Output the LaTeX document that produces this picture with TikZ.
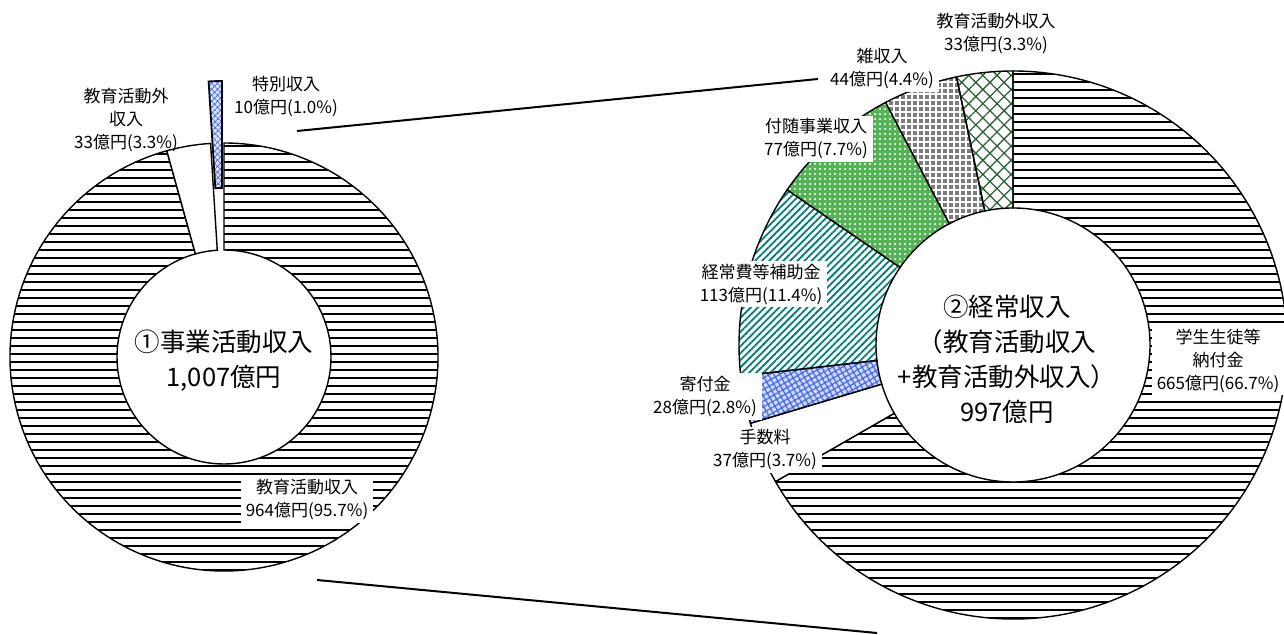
\documentclass[tikz,border=0pt]{standalone}
\usepackage{fontspec}
\setmainfont{Noto Sans CJK JP}
\usepackage{xcolor}
\usepackage{tikz}
\usetikzlibrary{patterns.meta}

\definecolor{hojoteal}{RGB}{0,128,118}
\definecolor{fuzuigreen}{RGB}{85,178,85}
\definecolor{zatsugray}{RGB}{125,125,125}
\definecolor{gaigreen}{RGB}{45,100,55}
\definecolor{kifublue}{RGB}{70,105,235}

\begin{document}
\begin{tikzpicture}[x=1pt, y=1pt,
		ring/.style args={#1/#2}{insert path={(#1:\Rout) arc[start angle=#1, end angle=#2, radius=\Rout] -- (#2:\Rin) arc[start angle=#2, end angle=#1, radius=\Rin] -- cycle}},
		part/.style={draw, line width=1.4pt},
		stripes/.style={part, pattern={Lines[angle=0, distance=8pt, line width=2.2pt]}},
		tokubetsu/.style={part, line width=1.8pt, preaction={fill=kifublue!20}, pattern={Hatch[angle=45, distance=4pt, line width=1pt]}, pattern color=kifublue},
		gaicross/.style={part, pattern={Hatch[angle=45, distance=10pt, line width=1.3pt]}, pattern color=gaigreen},
		zatsugrid/.style={part, preaction={fill=zatsugray}, pattern={Hatch[angle=0, distance=6pt, line width=1.4pt]}, pattern color=white},
		fuzuidots/.style={part, preaction={fill=fuzuigreen}, pattern={Dots[distance=5pt, radius=1.2pt]}, pattern color=white},
		hojolines/.style={part, pattern={Lines[angle=45, distance=5pt, line width=1.8pt]}, pattern color=hojoteal},
		kifuweave/.style={part, preaction={fill=kifublue!25}, pattern={Hatch[angle=30, distance=5pt, line width=1.2pt]}, pattern color=kifublue},
		lbl/.style={fill=white, align=center, inner xsep=5pt, inner ysep=3pt, font=\fontsize{17}{23}\selectfont},
		big/.style={align=center, font=\fontsize{25.5}{35}\selectfont}]
	\useasboundingbox (0,0) rectangle (1284,634);
	\begin{scope}[shift={(224,277)}]
		\def\Rout{214}\def\Rin{107}
		\path[stripes, ring=105.5/450];
		\path[part, fill=white, ring=93.6/105.5];
		\path[tokubetsu, shift={(91.8:62)}, ring=90/93.6];
		\coordinate (ltop) at (73,226);
		\coordinate (lbot) at (93,-223);
		\node[big] (jigyo) at (0,-3.5) {①事業活動収入\\1,007億円};
	\end{scope}
	\begin{scope}[shift={(1013,289)}]
		\def\Rout{274}\def\Rin{137}
		\path[stripes, ring=209.9/450];
		\path[part, fill=white, ring=196.6/209.9];
		\path[kifuweave, ring=186.5/196.6];
		\path[hojolines, ring=145.5/186.5];
		\path[fuzuidots, ring=117.7/145.5];
		\path[zatsugrid, ring=101.9/117.7];
		\path[gaicross, ring=90/101.9];
		\coordinate (rtop) at (-195,266);
		\coordinate (rbot) at (-136,-288);
		\node[big] (keijo) at (-6,-14.5) {②経常収入\\（教育活動収入\\+教育活動外収入）\\997億円};
	\end{scope}
	\node[lbl, fill=none] (tokubetsulbl) at (286,537.5) {特別収入\\10億円(1.0\%)};
	\node[lbl, fill=none] (gailbl) at (126,514) {教育活動外\\収入\\33億円(3.3\%)};
	\node[lbl] (kyoikulbl) at (307,134) {教育活動収入\\964億円(95.7\%)};
	\node[lbl, fill=none] (gai2lbl) at (996,600.5) {教育活動外収入\\33億円(3.3\%)};
	\node[lbl] (zatsulbl) at (882,565) {雑収入\\44億円(4.4\%)};
	\node[lbl] (fuzuilbl) at (816,495) {付随事業収入\\77億円(7.7\%)};
	\node[lbl] (hojolbl) at (761,350) {経常費等補助金\\113億円(11.4\%)};
	\node[lbl] (kifulbl) at (705,237.5) {寄付金\\28億円(2.8\%)};
	\node[lbl] (tesulbl) at (765,184) {手数料\\37億円(3.7\%)};
	\node[lbl] (nofulbl) at (1218,273.5) {学生生徒等\\納付金\\665億円(66.7\%)};
	\draw[line width=2pt] (ltop) -- (rtop);
	\draw[line width=2pt] (lbot) -- (rbot);
\end{tikzpicture}
\end{document}
